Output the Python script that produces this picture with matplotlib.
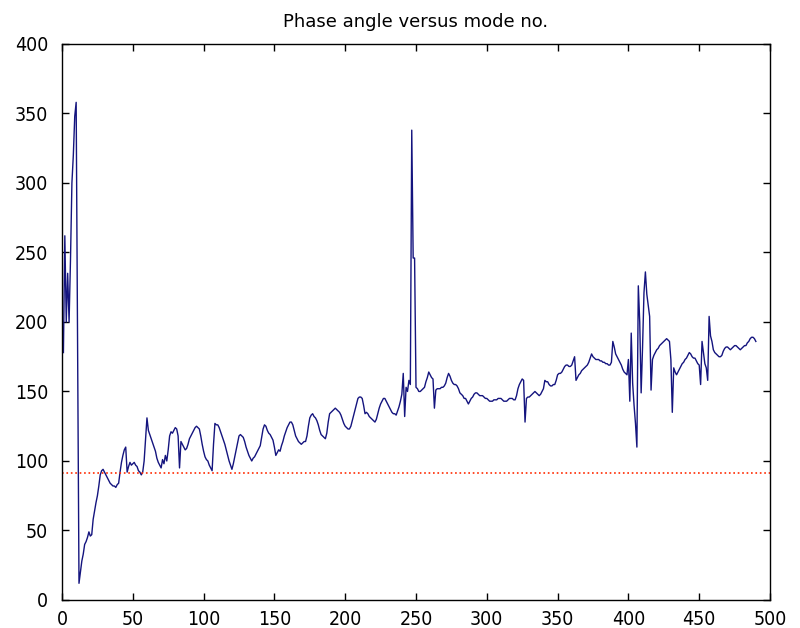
import numpy as np
import matplotlib
matplotlib.use('Agg')
import matplotlib.pyplot as plt

plt.rcParams['font.family'] = ['DejaVu Sans']

# phase angle (deg) for mode no. 1..490
phase = [
    178, 262, 200, 235, 200, 245, 300, 320, 348, 358,
    185, 12, 20, 28, 33, 40, 42, 45, 49, 46,
    47, 58, 64, 70, 75, 82, 90, 93, 94, 92,
    90, 88, 86, 84, 83, 82, 82, 81, 83, 84,
    92, 99, 104, 108, 110, 92, 96, 99, 97, 98,
    99, 97, 96, 93, 92, 90, 92, 100, 115, 131,
    122, 119, 116, 113, 110, 107, 102, 99, 97, 95,
    101, 98, 104, 100, 108, 118, 121, 120, 122, 124,
    123, 118, 95, 114, 112, 110, 108, 109, 112, 116,
    118, 120, 122, 124, 125, 124, 123, 118, 112, 107,
    103, 101, 100, 97, 95, 93, 112, 127, 126, 126,
    124, 121, 118, 115, 112, 108, 104, 100, 97, 94,
    98, 103, 108, 113, 118, 119, 118, 117, 114, 110,
    107, 104, 102, 100, 102, 103, 105, 107, 109, 111,
    117, 123, 126, 125, 122, 120, 119, 117, 115, 110,
    104, 106, 108, 107, 111, 114, 118, 121, 124, 126,
    128, 128, 126, 122, 118, 116, 114, 113, 112, 113,
    114, 114, 118, 125, 131, 133, 134, 132, 131, 129,
    126, 122, 119, 118, 117, 116, 120, 128, 134, 135,
    136, 137, 138, 137, 136, 135, 133, 130, 127, 125,
    124, 123, 123, 125, 129, 133, 137, 141, 145, 146,
    146, 145, 140, 134, 135, 134, 132, 131, 130, 129,
    128, 130, 134, 138, 141, 143, 145, 145, 143, 141,
    139, 137, 135, 134, 134, 133, 136, 139, 143, 148,
    163, 132, 153, 150, 158, 155, 338, 246, 246, 153,
    152, 150, 150, 151, 152, 153, 157, 160, 164, 162,
    160, 159, 138, 151, 152, 152, 152, 153, 153, 154,
    156, 160, 163, 161, 158, 156, 155, 155, 154, 152,
    149, 148, 147, 145, 145, 143, 141, 143, 145, 146,
    148, 149, 149, 148, 147, 147, 147, 146, 145, 145,
    144, 143, 143, 143, 144, 144, 144, 145, 145, 145,
    144, 143, 143, 143, 144, 145, 145, 145, 144, 144,
    147, 152, 155, 157, 159, 158, 128, 145, 146, 146,
    147, 148, 149, 150, 149, 148, 147, 148, 150, 152,
    158, 157, 157, 155, 154, 154, 155, 155, 158, 162,
    163, 163, 164, 166, 168, 169, 169, 168, 168, 169,
    172, 175, 158, 160, 162, 163, 165, 166, 167, 168,
    169, 171, 174, 177, 175, 174, 173, 173, 173, 172,
    172, 171, 171, 170, 170, 169, 169, 171, 186, 182,
    177, 175, 173, 171, 169, 166, 164, 163, 162, 173,
    143, 192, 156, 140, 127, 110, 226, 200, 149, 182,
    221, 236, 220, 212, 204, 151, 173, 176, 178, 180,
    181, 183, 184, 185, 186, 187, 188, 187, 186, 173,
    135, 167, 164, 162, 164, 166, 168, 170, 171, 173,
    174, 176, 178, 177, 175, 174, 174, 172, 170, 169,
    155, 186, 178, 170, 167, 158, 204, 190, 186, 180,
    178, 177, 176, 175, 175, 176, 179, 181, 182, 182,
    181, 180, 181, 182, 183, 183, 182, 181, 180, 181,
    182, 183, 183, 185, 186, 188, 189, 189, 188, 186,
]
mode = np.arange(1, len(phase) + 1)
ref_level = 91

fig = plt.figure(figsize=(8, 6.28), dpi=100)
ax = fig.add_axes([0.0775, 0.0446, 0.885, 0.8854])

ax.plot(mode, phase, color='#14147e', linewidth=1.0)
ax.axhline(ref_level, color='#ff2a00', linestyle=':', linewidth=1.2)

ax.set_xlim(0, 500)
ax.set_ylim(0, 400)
ax.set_xticks(np.arange(0, 501, 50))
ax.set_yticks(np.arange(0, 401, 50))
ax.tick_params(direction='in', top=True, right=True, length=5, width=1)
ax.tick_params(axis='y', pad=10)
ax.tick_params(axis='x', pad=7)
for lab in ax.get_xticklabels() + ax.get_yticklabels():
    lab.set_fontsize(14)
    lab.set_fontstretch('condensed')
for s in ax.spines.values():
    s.set_linewidth(1)
ax.set_title('Phase angle versus mode no.', fontsize=13, pad=12)

plt.savefig('out.png', dpi=100)
